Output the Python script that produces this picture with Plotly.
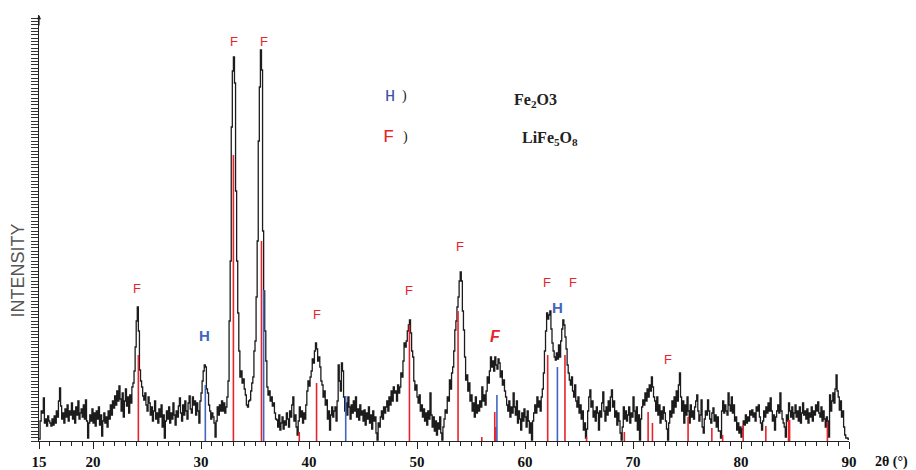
import plotly.graph_objects as go

# ---- XRD scan: 2-theta grid (start, step) and intensity (a.u.) ----
scan_start = 15.0
scan_step = 0.1
intensity = [
    2, 20, 30, 28, 43, 18, 22, 15, 25, 20,        # 15
    18, 15, 22, 16, 25, 18, 30, 24, 40, 53,       # 16
    35, 22, 28, 18, 32, 24, 36, 20, 30, 26,       # 17
    38, 22, 30, 18, 34, 26, 40, 22, 28, 32,       # 18
    24, 36, 22, 41, 20, 3, 18, 26, 20, 32,        # 19
    18, 28, 15, 30, 22, 34, 16, 26, 5, 20,        # 20
    28, 18, 24, 14, 30, 22, 36, 26, 40, 33,       # 21
    45, 36, 50, 40, 55, 42, 30, 48, 24, 40,       # 22
    52, 35, 44, 28, 46, 38, 54, 58, 70, 94,       # 23
    120, 134, 110, 71, 60, 54, 45, 41, 48, 36,    # 24
    30, 44, 38, 26, 34, 20, 30, 40, 22, 28,       # 25
    18, 32, 24, 36, 14, 26, 3, 20, 30, 22,        # 26
    34, 18, 28, 22, 38, 26, 16, 30, 24, 35,       # 27
    43, 28, 20, 36, 26, 40, 30, 22, 38, 45,       # 28
    32, 28, 44, 36, 40, 26, 38, 30, 18, 40,       # 29
    48, 60, 70, 76, 74, 52, 48, 36, 30, 22,       # 30
    28, 24, 18, 4, 20, 34, 26, 36, 30, 40,        # 31
    30, 38, 28, 34, 44, 60, 120, 180, 314, 370,   # 32
    384, 358, 250, 180, 128, 90, 64, 70, 58, 62,  # 33
    52, 46, 36, 34, 40, 41, 50, 58, 64, 90,       # 34
    100, 144, 200, 300, 354, 391, 371, 210, 150, 110,  # 35
    80, 54, 46, 50, 40, 44, 35, 38, 28, 22,       # 36
    21, 14, 26, 11, 18, 24, 12, 20, 16, 28,       # 37
    22, 14, 30, 24, 36, 44, 20, 26, 14, 6,        # 38
    20, 34, 24, 30, 18, 28, 22, 36, 50, 60,       # 39
    55, 64, 70, 82, 78, 90, 98, 92, 80, 84,       # 40
    74, 60, 56, 44, 50, 36, 41, 22, 30, 11,       # 41
    26, 34, 24, 30, 34, 20, 40, 76, 60, 50,       # 42
    78, 70, 44, 30, 38, 26, 44, 34, 22, 36,       # 43
    28, 40, 30, 44, 24, 32, 21, 36, 26, 30,       # 44
    20, 31, 16, 28, 22, 34, 18, 26, 12, 30,       # 45
    20, 24, 8, 1, 18, 14, 24, 30, 22, 34,         # 46
    28, 34, 40, 30, 44, 36, 50, 40, 54, 48,       # 47
    50, 40, 56, 48, 54, 68, 64, 80, 98, 94,       # 48
    100, 110, 116, 121, 108, 90, 84, 60, 51, 56,  # 49
    44, 38, 46, 30, 36, 24, 32, 20, 28, 16,       # 50
    30, 22, 48, 26, 14, 24, 10, 20, 6, 18,        # 51
    12, 24, 8, 1, 14, 22, 31, 28, 44, 40,         # 52
    61, 52, 68, 74, 90, 111, 120, 134, 144, 160,  # 53
    169, 160, 130, 111, 84, 61, 66, 50, 58, 40,   # 54
    46, 30, 38, 24, 44, 28, 36, 30, 40, 34,       # 55
    54, 40, 46, 36, 50, 64, 58, 70, 84, 74,       # 56
    80, 70, 84, 76, 72, 82, 78, 64, 70, 56,       # 57
    61, 50, 44, 36, 30, 40, 24, 34, 28, 48,       # 58
    34, 26, 40, 18, 30, 22, 11, 28, 20, 32,       # 59
    24, 14, 30, 20, 8, 18, 1, 20, 28, 36,         # 60
    28, 44, 34, 40, 30, 44, 52, 68, 90, 110,      # 61
    128, 122, 126, 130, 112, 98, 90, 84, 81, 88,  # 62
    82, 96, 84, 100, 112, 121, 116, 104, 92, 76,  # 63
    68, 61, 56, 64, 50, 44, 56, 40, 34, 44,       # 64
    28, 36, 22, 30, 11, 18, 3, 12, 30, 44,        # 65
    51, 34, 40, 24, 30, 20, 34, 28, 11, 30,       # 66
    24, 38, 49, 30, 20, 34, 26, 40, 30, 44,       # 67
    51, 34, 40, 24, 30, 16, 28, 20, 8, 1,         # 68
    14, 34, 22, 30, 20, 26, 34, 18, 28, 24,       # 69
    44, 30, 20, 34, 11, 26, 1, 22, 34, 41,        # 70
    36, 48, 40, 52, 44, 56, 50, 64, 54, 44,       # 71
    40, 30, 44, 26, 36, 18, 30, 22, 34, 28,       # 72
    20, 12, 1, 18, 30, 24, 40, 28, 44, 34,        # 73
    50, 40, 56, 68, 44, 30, 40, 18, 36, 26,       # 74
    44, 30, 18, 36, 24, 30, 22, 34, 40, 46,       # 75
    30, 20, 26, 41, 14, 8, 22, 30, 26, 41,        # 76
    30, 22, 18, 28, 33, 20, 26, 14, 24, 10,       # 77
    10, 3, 30, 40, 28, 36, 30, 26, 48, 36,        # 78
    30, 44, 28, 36, 20, 24, 11, 18, 8, 14,        # 79
    4, 12, 20, 16, 26, 18, 24, 20, 30, 26,        # 80
    31, 24, 28, 20, 34, 30, 36, 24, 18, 11,       # 81
    20, 30, 24, 34, 28, 38, 30, 43, 30, 20,       # 82
    26, 11, 24, 30, 36, 28, 48, 30, 22, 18,       # 83
    14, 4, 26, 20, 38, 30, 24, 34, 22, 28,        # 84
    36, 24, 30, 20, 34, 18, 28, 38, 26, 30,       # 85
    22, 32, 18, 28, 24, 34, 20, 30, 26, 36,       # 86
    30, 39, 28, 24, 34, 20, 30, 22, 14, 24,       # 87
    20, 4, 46, 30, 40, 48, 38, 52, 66, 50,        # 88
    44, 31, 40, 24, 30, 14, 6, 3, 3, 2,           # 89
    1,                                            # 90
]
two_theta = [round(scan_start + scan_step * i, 1) for i in range(len(intensity))]

# ---- reference patterns (stick positions and heights) ----
f_pos = [24.2, 33.0, 35.6, 39.1, 40.7, 49.3, 53.8, 56.0, 57.2, 57.3, 62.1, 63.7,
         65.7, 69.2, 71.4, 71.8, 75.1, 77.3, 78.3, 80.2, 82.3, 84.4, 84.5, 88.0]
f_height = [86, 286, 200, 9, 58, 116, 130, 4, 29, 14, 86, 86,
            4, 9, 29, 18, 24, 13, 6, 16, 15, 21, 21, 19]
h_pos = [30.4, 35.8, 43.4, 57.4, 63.0]
h_height = [56, 151, 45, 46, 74]

# ---- peak labels ----
f_label_x = [24.1, 33.05, 35.85, 40.7, 49.3, 54.0, 62.0, 64.4, 73.2]
f_label_y = [153, 400, 400, 127, 151, 195, 159, 159, 82]
f_italic_label = (57.3, 105)
h_label_x = [30.3, 63.05]
h_label_y = [106, 134]

x_ticks = [15, 20, 30, 40, 50, 60, 70, 80, 90]

RED = "#e8232c"
BLUE = "#4166c0"


def sticks(pos, hgt):
    xs, ys = [], []
    for p, h in zip(pos, hgt):
        xs += [p, p, None]
        ys += [0, h, None]
    return xs, ys


fig = go.Figure()
fig.add_trace(go.Scatter(x=two_theta, y=intensity, mode="lines",
                         line=dict(color="#1c1c1c", width=1.3, shape="hv"),
                         hoverinfo="skip"))
fx, fy = sticks(f_pos, f_height)
fig.add_trace(go.Scatter(x=fx, y=fy, mode="lines", line=dict(color=RED, width=1.6)))
hx, hy = sticks(h_pos, h_height)
fig.add_trace(go.Scatter(x=hx, y=hy, mode="lines", line=dict(color=BLUE, width=1.6)))

ann = []
for x, y in zip(f_label_x, f_label_y):
    ann.append(dict(x=x, y=y, text="F", showarrow=False,
                    font=dict(family="Liberation Sans, Arial", size=13, color=RED)))
ann.append(dict(x=f_italic_label[0], y=f_italic_label[1], text="<b><i>F</i></b>", showarrow=False,
                font=dict(family="Liberation Sans, Arial", size=16, color=RED)))
for x, y in zip(h_label_x, h_label_y):
    ann.append(dict(x=x, y=y, text="<b>H</b>", showarrow=False,
                    font=dict(family="Liberation Sans, Arial", size=15, color=BLUE)))

# legend-like text
ann += [
    dict(x=47.5, y=345, text="H", showarrow=False,
         font=dict(family="Liberation Mono, Courier New", size=17, color="#3b4fa8")),
    dict(x=48.8, y=345, text=")", showarrow=False,
         font=dict(family="Liberation Serif", size=14, color="#222")),
    dict(x=61.0, y=341, text="<b>Fe<sub>2</sub>O3</b>", showarrow=False,
         font=dict(family="Liberation Serif", size=16, color="#222")),
    dict(x=47.4, y=304, text="F", showarrow=False,
         font=dict(family="Liberation Mono, Courier New", size=19, color=RED)),
    dict(x=48.9, y=304, text=")", showarrow=False,
         font=dict(family="Liberation Serif", size=14, color="#222")),
    dict(x=62.3, y=303, text="<b>LiFe<sub>5</sub>O<sub>8</sub></b>", showarrow=False,
         font=dict(family="Liberation Serif", size=16, color="#222")),
]
# axis titles
ann.append(dict(xref="paper", yref="paper", x=1.052, y=-0.05, text="<b>2θ (°)</b>",
                showarrow=False, xanchor="center", yanchor="middle",
                font=dict(family="Liberation Serif", size=14, color="#111")))
ann.append(dict(xref="paper", yref="paper", x=-0.026, y=0.4, text="INTENSITY",
                textangle=-90, showarrow=False, xanchor="center", yanchor="middle",
                font=dict(family="Liberation Sans, Arial", size=18, color="#555")))
# arrow at top of y axis
ann.append(dict(xref="paper", yref="paper", x=0, y=1.0, ax=0, ay=12, text="",
                showarrow=True, arrowhead=2, arrowsize=0.7, arrowwidth=1.2,
                arrowcolor="#222"))

fig.update_layout(
    width=916, height=470,
    margin=dict(l=39, r=67, t=15, b=29),
    paper_bgcolor="white", plot_bgcolor="white",
    showlegend=False,
    annotations=ann,
    xaxis=dict(range=[15, 90], tickvals=x_ticks, ticktext=[str(t) for t in x_ticks],
               ticks="outside", ticklen=7, tickwidth=1.2, tickcolor="#222",
               showline=True, linecolor="#222", linewidth=1.4,
               showgrid=False, zeroline=False, automargin=False,
               tickfont=dict(family="Liberation Serif", size=15, color="#111", weight="bold"),
               minor=dict(tick0=15, dtick=1, ticks="outside", ticklen=4,
                          tickcolor="#222", tickwidth=1, showgrid=False)),
    yaxis=dict(range=[0, 426], tick0=0, dtick=3.33, ticks="outside", ticklen=7,
               tickwidth=1, tickcolor="#333", showticklabels=False,
               showline=True, linecolor="#222", linewidth=1.4,
               showgrid=False, zeroline=False, automargin=False),
)

fig.write_html("out.html", config={"displayModeBar": False},
               post_script="document.body.style.margin='0';document.body.style.overflow='hidden';")
